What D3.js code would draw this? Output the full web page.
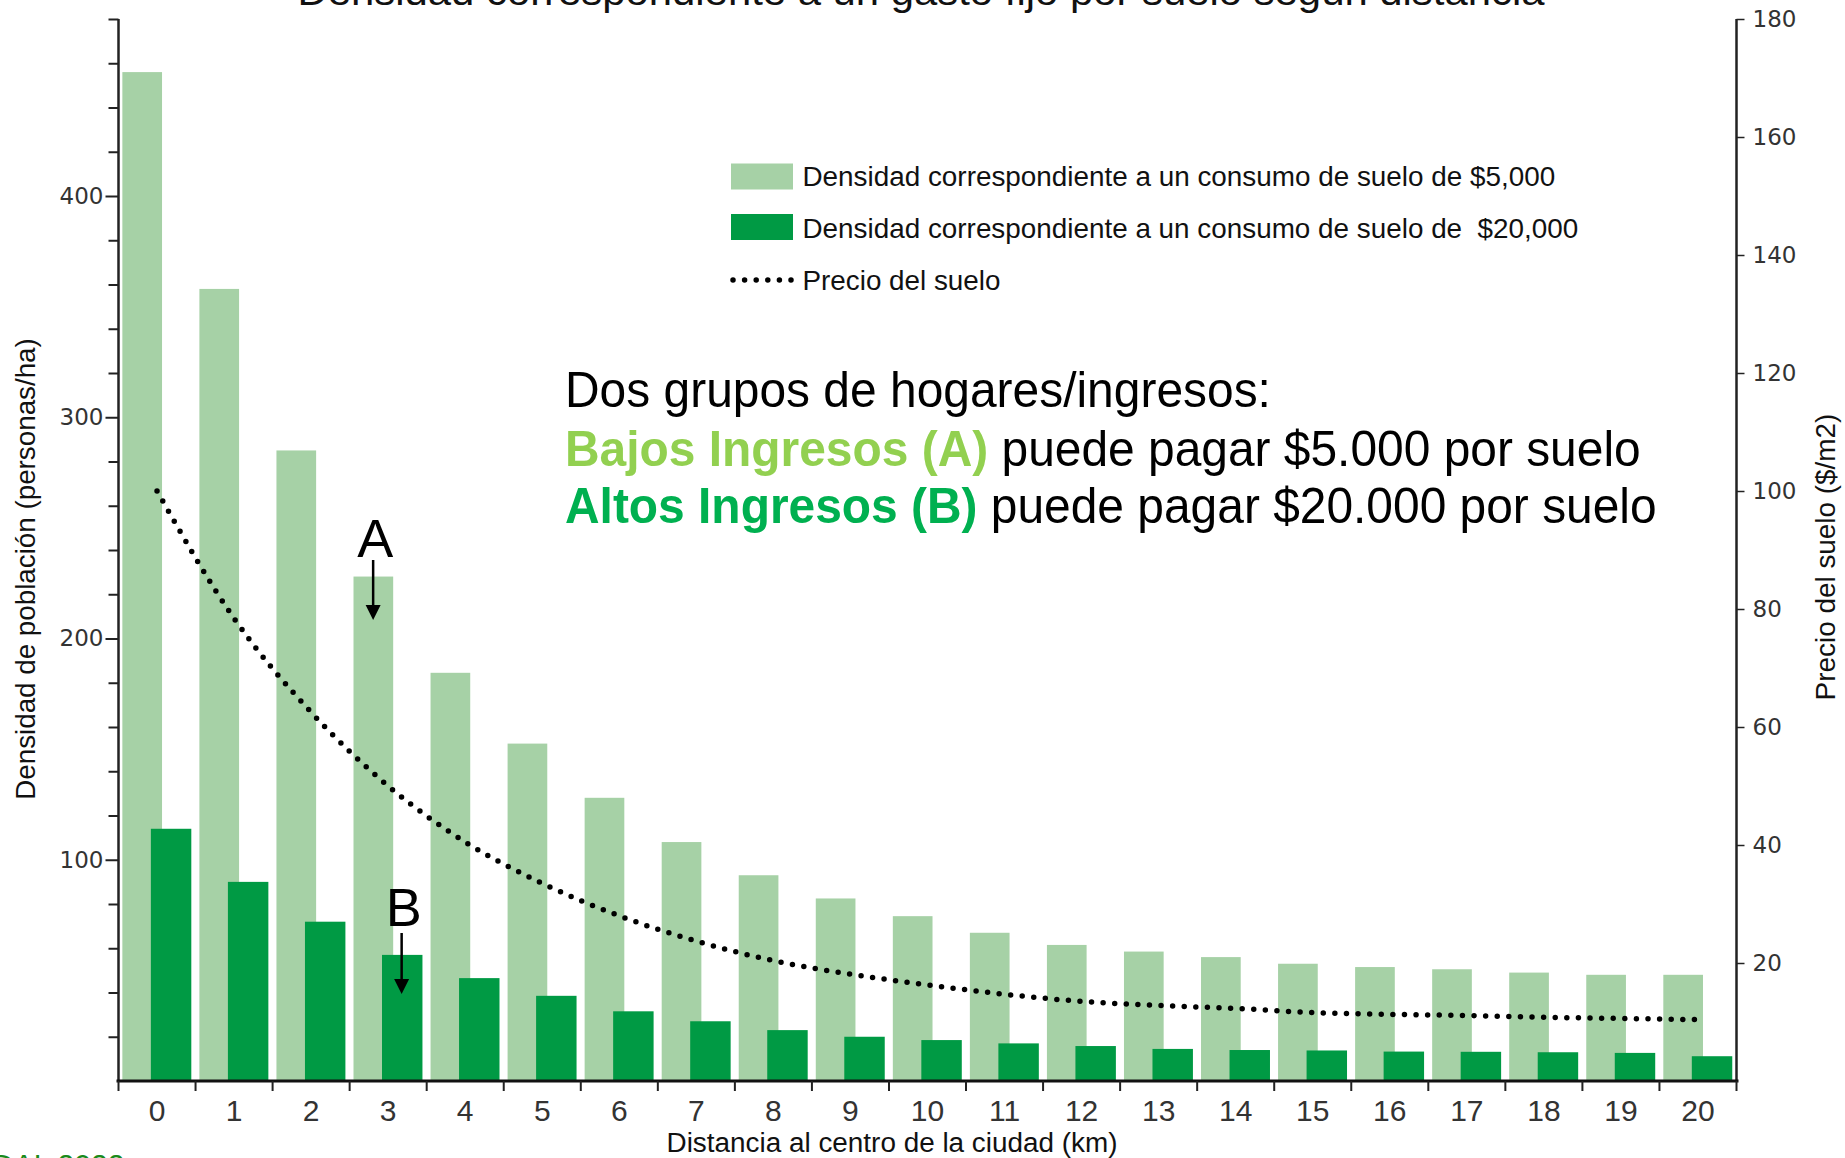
<!DOCTYPE html>
<html><head><meta charset="utf-8">
<script src="https://cdn.jsdelivr.net/npm/d3@7"></script>
<style>
body{margin:0;background:#fff;overflow:hidden}
svg{display:block}
text{white-space:pre}
</style>
</head><body>
<svg id="chart" width="1845" height="1158"></svg>
<script>
// ---------- data ----------
const categories = ["0","1","2","3","4","5","6","7","8","9","10","11","12","13","14","15","16","17","18","19","20"];
const densidad5000 = [456, 358, 285, 228, 184.5, 152.5, 128, 108, 93, 82.5, 74.5, 67, 61.5, 58.5, 56, 53, 51.5, 50.5, 49, 48, 48];
const densidad20000 = [114, 90, 72, 57, 46.5, 38.5, 31.5, 27, 23, 20, 18.5, 17, 15.8, 14.5, 14, 13.8, 13.3, 13.2, 13, 12.7, 11.2];
const precioSuelo = [100, 78.4, 62.5, 50, 40.5, 33.5, 28, 23.7, 20.4, 18.1, 16.3, 14.7, 13.5, 12.8, 12.3, 11.6, 11.3, 11.1, 10.8, 10.6, 10.4];
const leftTickValues = [20,40,60,80,100,120,140,160,180,200,220,240,260,280,300,320,340,360,380,400,420,440,460,480];
const leftTickLabels = [100,200,300,400];
const rightTickValues = [20,40,60,80,100,120,140,160,180];
const legendLabels = ["Densidad correspondiente a un consumo de suelo de $5,000",
                      "Densidad correspondiente a un consumo de suelo de  $20,000",
                      "Precio del suelo"];
const titleText = "Densidad correspondiente a un gasto fijo por suelo según distancia";
const xTitle = "Distancia al centro de la ciudad (km)";
const yLeftTitle = "Densidad de población (personas/ha)";
const yRightTitle = "Precio del suelo ($/m2)";

// ---------- style ----------
const LIGHT = "#a6d1a6", DARK = "#009a44", AXIS = "#222";
const FONT = "'Liberation Sans Narrow','Liberation Sans',Arial,sans-serif";
const FONT_W = "'Liberation Sans',Arial,sans-serif";

const svg = d3.select("#chart");
const m = {left:118.5, right:1736.5, top:19, bottom:1081};

const x = d3.scaleBand().domain(categories).range([m.left, m.right]).padding(0);
const bw = x.bandwidth();
const yL = d3.scaleLinear().domain([0,480]).range([m.bottom, m.top]);
const yR = d3.scaleLinear().domain([0,180]).range([m.bottom, m.top]);

// helper: text placed at (px,py), optionally rotated, stretched to width w
function fitText(parent, str, px, py, opts){
  const g = parent.append("g").attr("transform", `translate(${px},${py})` + (opts.rotate ? ` rotate(${opts.rotate})` : ""));
  const t = g.append("text").attr("x",0).attr("y",0)
    .attr("text-anchor", opts.anchor || "start")
    .attr("font-family", opts.family || FONT)
    .attr("font-size", opts.size)
    .attr("font-weight", opts.weight || "normal")
    .attr("fill", opts.fill || "#000");
  if (opts.parts){
    opts.parts.forEach(p => t.append("tspan").text(p.text).attr("fill", p.fill).attr("font-weight", p.weight || "normal"));
  } else t.text(str);
  if (opts.width){
    const w = t.node().getComputedTextLength();
    t.attr("transform", `scale(${opts.width / w},1)`);
  }
  return t;
}

// ---------- bars ----------
svg.append("g").selectAll("rect").data(categories).join("rect")
  .attr("x", c => x(c) + bw*0.05).attr("width", bw*0.515)
  .attr("y", (c,i) => yL(densidad5000[i])).attr("height", (c,i) => yL(0) - yL(densidad5000[i]))
  .attr("fill", LIGHT);
svg.append("g").selectAll("rect").data(categories).join("rect")
  .attr("x", c => x(c) + bw*0.42).attr("width", bw*0.525)
  .attr("y", (c,i) => yL(densidad20000[i])).attr("height", (c,i) => yL(0) - yL(densidad20000[i]))
  .attr("fill", DARK);

// ---------- price line ----------
const line = d3.line().x((d,i) => x(categories[i]) + bw/2).y(d => yR(d)).curve(d3.curveMonotoneX);
svg.append("path").datum(precioSuelo).attr("d", line)
  .attr("fill","none").attr("stroke","#000").attr("stroke-width",5.5)
  .attr("stroke-linecap","round").attr("stroke-dasharray","0 11.6");

// ---------- axes ----------
const axL = svg.append("g").attr("transform", `translate(${m.left},0)`)
  .call(d3.axisLeft(yL).tickValues(leftTickValues).tickSize(10).tickPadding(5)
    .tickFormat(d => leftTickLabels.includes(d) ? d : ""));
axL.select(".domain").attr("d", `M0,${m.top}V${m.bottom}`).attr("stroke",AXIS).attr("stroke-width",2.5);
axL.selectAll(".tick line").attr("stroke",AXIS).attr("stroke-width",2)
  .attr("x2", d => leftTickLabels.includes(d) ? -13 : -10);
axL.selectAll(".tick text").attr("font-family","'DejaVu Sans',sans-serif").attr("font-size",23).attr("fill","#333").attr("x",-15);

const axR = svg.append("g").attr("transform", `translate(${m.right},0)`)
  .call(d3.axisRight(yR).tickValues(rightTickValues).tickSize(8).tickPadding(8));
axR.select(".domain").attr("d", `M0,${m.top}V${m.bottom}`).attr("stroke",AXIS).attr("stroke-width",2.5);
axR.selectAll(".tick line").attr("stroke",AXIS).attr("stroke-width",1.5);
axR.selectAll(".tick text").attr("font-family","'DejaVu Sans',sans-serif").attr("font-size",23).attr("fill","#333");

const axB = svg.append("g").attr("transform", `translate(0,${m.bottom})`)
  .call(d3.axisBottom(x).tickSize(0).tickPadding(19));
axB.select(".domain").attr("d", `M${m.left-2},0H${m.right+2}`).attr("stroke","#111").attr("stroke-width",3);
axB.selectAll(".tick text").attr("font-family",FONT).attr("font-size",30).attr("fill","#333");
// boundary ticks
axB.append("g").selectAll("line").data(categories.concat(["end"])).join("line")
  .attr("x1", c => c === "end" ? m.right : x(c)).attr("x2", c => c === "end" ? m.right : x(c))
  .attr("y1",0).attr("y2",10).attr("stroke",AXIS).attr("stroke-width",2);

// ---------- titles ----------
fitText(svg, titleText, 921, 5, {anchor:"middle", size:38, width:1247, fill:"#111"});
fitText(svg, xTitle, 892, 1152, {anchor:"middle", size:28, width:451, fill:"#111"});
fitText(svg, yLeftTitle, 35, 569, {anchor:"middle", size:28, width:462, rotate:-90, fill:"#111"});
fitText(svg, yRightTitle, 1835, 557, {anchor:"middle", size:28, width:287, rotate:-90, fill:"#111"});

// ---------- legend ----------
const lg = svg.append("g");
lg.append("rect").attr("x",731).attr("y",163.5).attr("width",62).attr("height",26).attr("fill",LIGHT);
lg.append("rect").attr("x",731).attr("y",214).attr("width",62).attr("height",26).attr("fill",DARK);
lg.append("path").attr("d","M733,280H792").attr("stroke","#000").attr("stroke-width",5.5)
  .attr("stroke-linecap","round").attr("stroke-dasharray","0 11.6");
fitText(lg, legendLabels[0], 802.5, 186, {size:28, width:753, fill:"#111"});
fitText(lg, legendLabels[1], 802.5, 237.5, {size:28, width:776, fill:"#111"});
fitText(lg, legendLabels[2], 802.5, 289.5, {size:28, width:198, fill:"#111"});

// ---------- annotation text ----------
fitText(svg, "", 565, 407, {size:50, width:706, family:FONT_W,
  parts:[{text:"Dos grupos de hogares/ingresos:", fill:"#000"}]});
fitText(svg, "", 565, 465.5, {size:50, width:1076, family:FONT_W,
  parts:[{text:"Bajos Ingresos (A)", fill:"#92d050", weight:"bold"},{text:" puede pagar $5.000 por suelo", fill:"#000"}]});
fitText(svg, "", 565, 523, {size:50, width:1092, family:FONT_W,
  parts:[{text:"Altos Ingresos (B)", fill:"#00b050", weight:"bold"},{text:" puede pagar $20.000 por suelo", fill:"#000"}]});

// ---------- A / B markers ----------
function marker(label, cx, labelBase, y0, y1){
  svg.append("text").attr("x",cx+2).attr("y",labelBase).attr("text-anchor","middle")
    .attr("font-family",FONT_W).attr("font-size",54).attr("fill","#000").text(label);
  svg.append("line").attr("x1",cx).attr("x2",cx).attr("y1",y0).attr("y2",y1-12)
    .attr("stroke","#000").attr("stroke-width",2.5);
  svg.append("path").attr("d",`M${cx-7.5},${y1-15}L${cx+7.5},${y1-15}L${cx},${y1}Z`).attr("fill","#000");
}
marker("A", x("3") + 23.5, 557, 560, 620);
marker("B", x("3") + 52, 926, 933, 994);

// ---------- source ----------
svg.append("text").attr("x",-8).attr("y",1175).attr("font-family",FONT_W).attr("font-size",30)
  .attr("fill","#1a8a1a").text("DAL 2022");
</script>
</body></html>
